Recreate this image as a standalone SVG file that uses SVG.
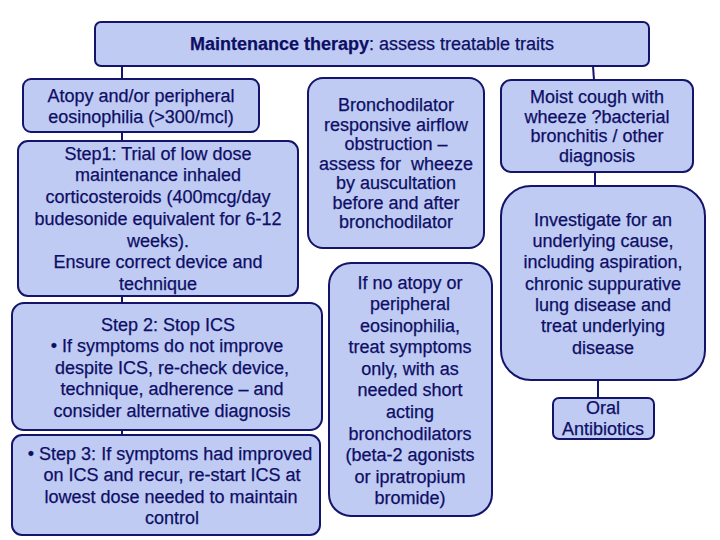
<svg xmlns="http://www.w3.org/2000/svg" width="720" height="540" viewBox="0 0 720 540">
<style>
.box{fill:#BFCBF2;stroke:#14146A;stroke-width:2}
.con{stroke:#14146A;stroke-width:2;fill:none}
text{font-family:"Liberation Sans",Arial,sans-serif;font-size:18px;fill:#0E0E66;text-anchor:middle;stroke:#0E0E66;stroke-width:0.25}
.b{font-weight:bold}
</style>
<rect width="720" height="540" fill="#fff"/>
<g id="connectors">
<line class="con" x1="122" y1="66" x2="122" y2="79"/>
<line class="con" x1="122" y1="132" x2="122" y2="141"/>
<line class="con" x1="122" y1="296" x2="122" y2="303"/>
<line class="con" x1="122" y1="430" x2="122" y2="435"/>
<line class="con" x1="593" y1="66" x2="594" y2="80"/>
<line class="con" x1="595" y1="172" x2="595" y2="186"/>
<line class="con" x1="598" y1="380" x2="598" y2="398"/>
</g>
<g id="top">
<rect class="box" x="95" y="22" width="554" height="44" rx="6"/>
<text x="372" y="50"><tspan class="b">Maintenance therapy</tspan>: assess treatable traits</text>
</g>
<g id="atopy">
<rect class="box" x="23" y="79" width="236" height="53" rx="8"/>
<text x="141" y="102">Atopy and/or peripheral</text>
<text x="141" y="123">eosinophilia (&gt;300/mcl)</text>
</g>
<g id="step1">
<rect class="box" x="18" y="141" width="280" height="155" rx="10"/>
<text x="158" y="160">Step1: Trial of low dose</text>
<text x="158" y="181">maintenance inhaled</text>
<text x="158" y="203">corticosteroids (400mcg/day</text>
<text x="158" y="225">budesonide equivalent for 6-12</text>
<text x="158" y="247">weeks).</text>
<text x="158" y="268">Ensure correct device and</text>
<text x="158" y="290">technique</text>
</g>
<g id="step2">
<rect class="box" x="12" y="303" width="310" height="127" rx="12"/>
<text x="168" y="331">Step 2: Stop ICS</text>
<text x="167" y="352">• If symptoms do not improve</text>
<text x="172" y="374">despite ICS, re-check device,</text>
<text x="172" y="395">technique, adherence – and</text>
<text x="172" y="417">consider alternative diagnosis</text>
</g>
<g id="step3">
<rect class="box" x="12" y="435" width="308" height="100" rx="10"/>
<text x="170" y="460">• Step 3: If symptoms had improved</text>
<text x="172" y="481">on ICS and recur, re-start ICS at</text>
<text x="171" y="503">lowest dose needed to maintain</text>
<text x="172" y="524">control</text>
</g>
<g id="broncho">
<rect class="box" x="308" y="78" width="176" height="170" rx="15"/>
<text x="396" y="111">Bronchodilator</text>
<text x="396" y="131">responsive airflow</text>
<text x="396" y="150">obstruction –</text>
<text x="396" y="170" style="white-space:pre">assess for  wheeze</text>
<text x="396" y="189">by auscultation</text>
<text x="396" y="209">before and after</text>
<text x="396" y="228">bronchodilator</text>
</g>
<g id="noatopy">
<rect class="box" x="329" y="263" width="163" height="253" rx="22"/>
<text x="410" y="289">If no atopy or</text>
<text x="410" y="310">peripheral</text>
<text x="410" y="332">eosinophilia,</text>
<text x="410" y="353">treat symptoms</text>
<text x="410" y="375">only, with as</text>
<text x="410" y="396">needed short</text>
<text x="410" y="418">acting</text>
<text x="410" y="440">bronchodilators</text>
<text x="410" y="461">(beta-2 agonists</text>
<text x="410" y="483">or ipratropium</text>
<text x="410" y="504">bromide)</text>
</g>
<g id="moist">
<rect class="box" x="501" y="80" width="192" height="92" rx="10"/>
<text x="597" y="103">Moist cough with</text>
<text x="597" y="123">wheeze ?bacterial</text>
<text x="597" y="142">bronchitis / other</text>
<text x="597" y="162">diagnosis</text>
</g>
<g id="investigate">
<rect class="box" x="501" y="186" width="204" height="194" rx="30"/>
<text x="603" y="226">Investigate for an</text>
<text x="603" y="247">underlying cause,</text>
<text x="603" y="268">including aspiration,</text>
<text x="603" y="290">chronic suppurative</text>
<text x="603" y="311">lung disease and</text>
<text x="603" y="332">treat underlying</text>
<text x="603" y="354">disease</text>
</g>
<g id="oral">
<rect class="box" x="553" y="398" width="101" height="41" rx="6"/>
<text x="603" y="414">Oral</text>
<text x="603" y="435">Antibiotics</text>
</g>
</svg>
